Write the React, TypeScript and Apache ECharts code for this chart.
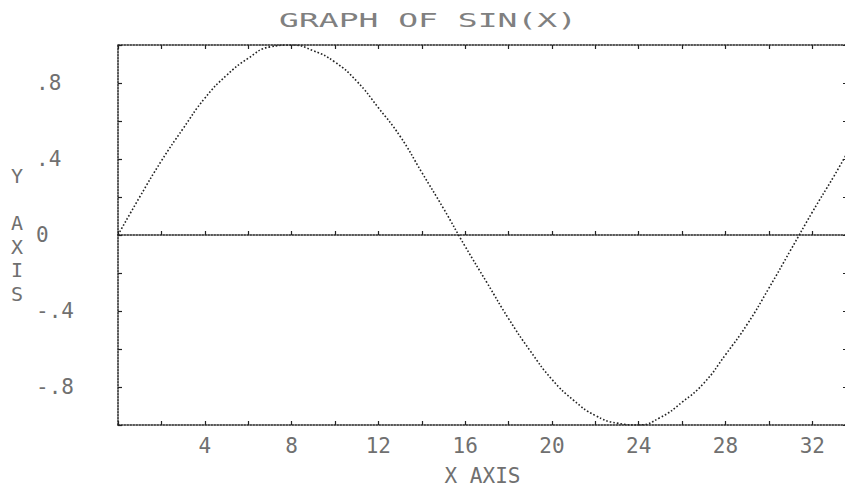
import React, { useEffect, useRef } from "react";
import * as echarts from "echarts";

// Values (x in plot units, y = curve height)
const xValues = [0, 1, 2, 3, 4, 5, 6, 7, 8, 9, 10, 11, 12, 13, 14, 15, 16, 17, 18, 19, 20, 21, 22, 23, 24, 25, 26, 27, 28, 29, 30, 31, 32, 33, 33.6];
const yValues = [0, 0.2, 0.39, 0.56, 0.72, 0.84, 0.93, 0.99, 1.0, 0.97, 0.91, 0.81, 0.67, 0.52, 0.33, 0.14, -0.06, -0.25, -0.44, -0.61, -0.76, -0.87, -0.95, -0.99, -1.0, -0.96, -0.88, -0.78, -0.63, -0.47, -0.28, -0.08, 0.12, 0.31, 0.43];

const xLabelValues = [4, 8, 12, 16, 20, 24, 28, 32];
const yLabelValues = [0.8, 0.4, 0, -0.4, -0.8];
const yLabelTexts = [".8", ".4", "0", "-.4", "-.8"];

const titleText = "GRAPH OF SIN(X)";
const xName = "X AXIS";
const yName = "Y\n \nA\nX\nI\nS";

const INK = "#222";
const TEXT = "#707070";
const FONT = "'DejaVu Sans Mono', 'Liberation Mono', monospace";

export default function App() {
  const ref = useRef<HTMLDivElement>(null);
  useEffect(() => {
    if (!ref.current) return;
    const chart = echarts.init(ref.current, null, { renderer: "svg" });
    const dotted = { color: INK, width: 1.5, type: [1.5, 1.5] as any };
    const option: any = {
      animation: false,
      backgroundColor: "#fff",
      graphic: [
        {
          type: "text",
          x: 428,
          y: 20,
          scaleX: 1.65,
          style: {
            text: titleText,
            fill: "#808080",
            font: `20px ${FONT}`,
            align: "center",
            verticalAlign: "middle",
          },
        },
      ],
      grid: {
        left: 118,
        top: 45,
        right: -2,
        bottom: 62,
        containLabel: false,
        outerBoundsMode: "none",
      },
      xAxis: [
        {
          type: "value",
          position: "bottom",
          min: 0,
          max: 33.6,
          interval: 2,
          name: xName,
          nameLocation: "middle",
          nameGap: 40,
          nameTextStyle: { color: TEXT, fontFamily: FONT, fontSize: 21 },
          axisLine: { show: true, onZero: false, lineStyle: dotted },
          axisTick: { show: true, inside: true, length: 4, lineStyle: { color: INK, width: 1.2 } },
          axisLabel: {
            color: TEXT,
            fontFamily: FONT,
            fontSize: 21,
            margin: 10,
            showMaxLabel: false,
            formatter: (v: number) => {
              const r = Math.round(v * 10) / 10;
              return xLabelValues.indexOf(r) >= 0 ? String(r) : "";
            },
          },
          splitLine: { show: false },
        },
        {
          type: "value",
          position: "top",
          min: 0,
          max: 33.6,
          interval: 2,
          axisLine: { show: true, onZero: false, lineStyle: dotted },
          axisTick: { show: true, inside: true, length: 4, lineStyle: { color: INK, width: 1.2 } },
          axisLabel: { show: false },
          splitLine: { show: false },
        },
        {
          type: "value",
          position: "bottom",
          min: 0,
          max: 33.6,
          interval: 2,
          axisLine: { show: true, onZero: true, onZeroAxisIndex: 0, lineStyle: dotted },
          axisTick: { show: true, inside: true, length: 4, lineStyle: { color: INK, width: 1.2 } },
          axisLabel: { show: false },
          splitLine: { show: false },
        },
      ],
      yAxis: [
        {
          type: "value",
          position: "left",
          min: -1,
          max: 1,
          interval: 0.2,
          name: yName,
          nameLocation: "middle",
          nameGap: 101,
          nameRotate: 0,
          nameTextStyle: {
            color: TEXT,
            fontFamily: FONT,
            fontSize: 20,
            lineHeight: 23.5,
            align: "center",
            verticalAlign: "middle",
            padding: [26, 0, 0, 0],
          },
          axisLine: { show: true, onZero: false, lineStyle: dotted },
          axisTick: { show: true, inside: true, length: 4, lineStyle: { color: INK, width: 1.2 } },
          axisLabel: {
            color: TEXT,
            fontFamily: FONT,
            fontSize: 21,
            align: "left",
            margin: 82,
            formatter: (v: number) => {
              const r = Math.round(v * 10) / 10;
              const i = yLabelValues.indexOf(r);
              return i >= 0 ? yLabelTexts[i] : "";
            },
          },
          splitLine: { show: false },
        },
        {
          type: "value",
          position: "right",
          min: -1,
          max: 1,
          interval: 0.2,
          axisLine: { show: true, onZero: false, lineStyle: dotted },
          axisTick: { show: true, inside: true, length: 4, lineStyle: { color: INK, width: 1.2 } },
          axisLabel: { show: false },
          splitLine: { show: false },
        },
      ],
      series: [
        {
          type: "line",
          xAxisIndex: 0,
          yAxisIndex: 0,
          data: xValues.map((x, i) => [x, yValues[i]]),
          smooth: true,
          showSymbol: false,
          lineStyle: { color: INK, width: 1.6, type: [1.6, 2] },
        },
      ],
    };
    chart.setOption(option);
    return () => chart.dispose();
  }, []);
  return (
    <div
      ref={ref}
      style={{ position: "absolute", left: 0, top: 0, width: 845, height: 487 }}
    />
  );
}
